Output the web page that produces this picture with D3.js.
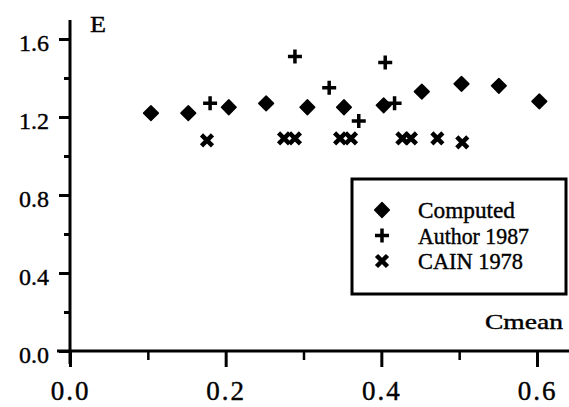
<!DOCTYPE html>
<html>
<head>
<meta charset="utf-8">
<script src="https://cdn.jsdelivr.net/npm/d3@7"></script>
<style>
  body { margin: 0; background: #fff; }
</style>
</head>
<body>
<div class="chart"></div>
<script>
// values
var computedX = [0.104, 0.152, 0.204, 0.252, 0.305, 0.352, 0.403, 0.452, 0.503, 0.551, 0.603];
var computedY = [1.22, 1.22, 1.25, 1.27, 1.25, 1.25, 1.26, 1.33, 1.37, 1.36, 1.28];
var authorX = [0.18, 0.289, 0.333, 0.371, 0.405, 0.417];
var authorY = [1.27, 1.51, 1.35, 1.18, 1.48, 1.27];
var cainX = [0.176, 0.275, 0.289, 0.347, 0.361, 0.427, 0.438, 0.472, 0.504];
var cainY = [1.08, 1.09, 1.09, 1.09, 1.09, 1.09, 1.09, 1.09, 1.07];

var xMajor = [0.0, 0.2, 0.4, 0.6];
var xMinor = [0.1, 0.3, 0.5];
var yMajor = [0.0, 0.4, 0.8, 1.2, 1.6];
var yMinor = [0.2, 0.6, 1.0, 1.4];
var legendNames = ["Computed", "Author 1987", "CAIN 1978"];

var svgWidth = 569, svgHeight = 407;
var serif = "'Liberation Serif', 'Times New Roman', Times, serif";

var svg = d3.select(".chart").append("svg")
  .attr("width", svgWidth)
  .attr("height", svgHeight)
  .style("font-family", serif);

var x = d3.scaleLinear().domain([0, 0.6]).range([70, 537]);
var y = d3.scaleLinear().domain([0, 1.6]).range([351, 39]);

// axis lines
svg.append("line")
  .attr("x1", x(0)).attr("x2", x(0))
  .attr("y1", 20).attr("y2", 364)
  .attr("stroke", "#000").attr("stroke-width", 3);
svg.append("line")
  .attr("x1", 57).attr("x2", 569)
  .attr("y1", y(0)).attr("y2", y(0))
  .attr("stroke", "#000").attr("stroke-width", 3);

// x ticks
var gx = svg.append("g").attr("transform", `translate(0, ${y(0)})`)
  .call(d3.axisBottom(x).tickValues(xMajor).tickSize(16).tickFormat(d3.format(".1f")));
gx.attr("font-family", null).attr("font-size", null);
gx.select(".domain").remove();
gx.selectAll("line").attr("stroke-width", 3);
gx.selectAll("text")
  .style("font-family", serif)
  .style("font-size", "27px")
  .style("letter-spacing", "2px")
  .attr("stroke", "#000").attr("stroke-width", 0.4)
  .attr("y", 49)
  .attr("dy", 0);

var gxm = svg.append("g").attr("transform", `translate(0, ${y(0)})`)
  .call(d3.axisBottom(x).tickValues(xMinor).tickSize(9).tickFormat(""));
gxm.select(".domain").remove();
gxm.selectAll("line").attr("stroke-width", 2.5);

// y ticks
var gy = svg.append("g").attr("transform", `translate(${x(0)}, 0)`)
  .call(d3.axisLeft(y).tickValues(yMajor).tickSize(11).tickPadding(10)
    .tickFormat(d3.format(".1f")));
gy.attr("font-family", null).attr("font-size", null);
gy.select(".domain").remove();
gy.selectAll("line").attr("stroke-width", 3);
gy.selectAll("text")
  .style("font-family", serif)
  .style("font-size", "24px")
  .attr("stroke", "#000").attr("stroke-width", 0.4)
  .attr("dy", "0.48em");

var gym = svg.append("g").attr("transform", `translate(${x(0)}, 0)`)
  .call(d3.axisLeft(y).tickValues(yMinor).tickSize(6).tickFormat(""));
gym.select(".domain").remove();
gym.selectAll("line").attr("stroke-width", 3);

// axis titles
svg.append("text")
  .attr("x", 90).attr("y", 32)
  .style("font-size", "23px")
  .attr("stroke", "#000").attr("stroke-width", 0.4)
  .attr("textLength", 16)
  .attr("lengthAdjust", "spacingAndGlyphs")
  .text("E");

svg.append("text")
  .attr("x", 485).attr("y", 329)
  .style("font-size", "21px")
  .attr("stroke", "#000").attr("stroke-width", 0.4)
  .attr("textLength", 78)
  .attr("lengthAdjust", "spacingAndGlyphs")
  .text("Cmean");

// marker drawers
var diamond = d3.symbol().type(d3.symbolSquare).size(108);

function drawDiamond(g, cx, cy) {
  g.append("path")
    .attr("d", diamond())
    .attr("transform", `translate(${cx},${cy}) rotate(45)`)
    .attr("fill", "#000")
    .attr("stroke", "#000")
    .attr("stroke-width", 1.5)
    .attr("stroke-linejoin", "round");
}
function drawPlus(g, cx, cy) {
  g.append("path")
    .attr("d", `M${cx - 7},${cy}H${cx + 7}M${cx},${cy - 7}V${cy + 7}`)
    .attr("stroke", "#000")
    .attr("stroke-width", 3.5);
}
function drawCross(g, cx, cy) {
  g.append("path")
    .attr("d", `M${cx - 5.5},${cy - 5.5}L${cx + 5.5},${cy + 5.5}M${cx - 5.5},${cy + 5.5}L${cx + 5.5},${cy - 5.5}`)
    .attr("stroke", "#000")
    .attr("stroke-width", 4.5);
}

var points = svg.append("g");
computedX.forEach(function(d, i) { drawDiamond(points, x(d), y(computedY[i])); });
authorX.forEach(function(d, i) { drawPlus(points, x(d), y(authorY[i])); });
cainX.forEach(function(d, i) { drawCross(points, x(d), y(cainY[i])); });

// legend
var legend = svg.append("g");
legend.append("rect")
  .attr("x", 352).attr("y", 179)
  .attr("width", 214).attr("height", 115)
  .attr("fill", "#fff")
  .attr("stroke", "#000")
  .attr("stroke-width", 3);

var legendDraw = [drawDiamond, drawPlus, drawCross];
var legendWidths = [97, 111, 105];
legendNames.forEach(function(name, i) {
  var cy = 210 + i * 25.5;
  legendDraw[i](legend, 382, cy);
  legend.append("text")
    .attr("x", 418).attr("y", cy + 8)
    .style("font-size", "23px")
    .attr("stroke", "#000").attr("stroke-width", 0.4)
    .attr("textLength", legendWidths[i])
    .attr("lengthAdjust", "spacingAndGlyphs")
    .text(name);
});
</script>
</body>
</html>
